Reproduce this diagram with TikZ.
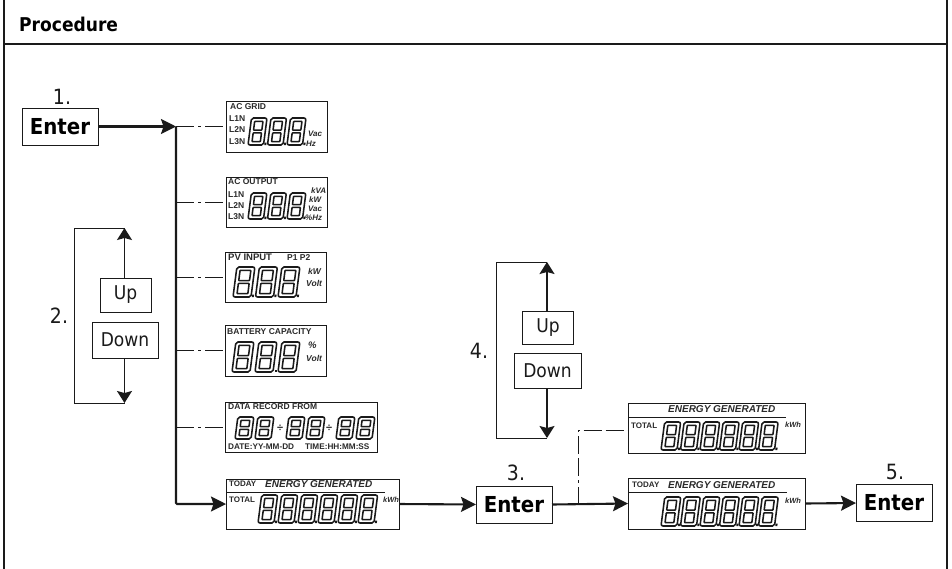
\documentclass[tikz,border=0pt]{standalone}
\usepackage{fontspec}
\setmainfont{DejaVu Sans}[FakeStretch=0.9]
\newfontfamily\lcdfont{Liberation Sans}
\usetikzlibrary{arrows.meta}
\definecolor{ink}{HTML}{1A1A1A}
\definecolor{lcdink}{HTML}{2A2A2A}
% #1 x of first digit, #2 bottom y, #3 width, #4 height, #5 pitch, #6 digit offsets, #7 dot flag
\newcommand\lcdrun[7]{%
  \foreach \d in {#6}{%
    \begin{scope}[shift={(#1+\d*#5,#2)},xslant=0.13,line width=1.55pt,draw=ink]
      \draw[rounded corners=2pt] (0,0) rectangle (#3,-#4);
      \draw[rounded corners=.6pt] (3.6,-3.4) rectangle (#3-3.6,-#4/2+1.4);
      \draw[rounded corners=.6pt] (3.6,-#4/2-1.4) rectangle (#3-3.6,-#4+3.4);
      \ifnum#7=1 \fill[ink] (#3+.8,-2.4) rectangle (#3+2.8,0);\fi
    \end{scope}}}
\tikzset{
  lcdbox/.style={draw=ink,line width=.9pt,minimum height=#1,inner sep=0,outer sep=0},
  keybox/.style={draw=ink,line width=.9pt,inner sep=0,outer sep=0,font=\fontsize{22}{24}\selectfont\bfseries,minimum width=76pt,minimum height=37pt},
  softbox/.style={draw=ink,line width=.8pt,inner sep=0,outer sep=0,font=\fontsize{19}{21}\selectfont,text=ink},
  stepnum/.style={font=\fontsize{21}{23}\selectfont,text=ink},
  lcdtxt/.style={font=\lcdfont\fontsize{#1}{#1}\selectfont\bfseries,text=lcdink,inner sep=0,anchor=west},
  lcdtxt/.default=8.5,
  lcdunit/.style={font=\lcdfont\fontsize{#1}{#1}\selectfont\bfseries\itshape,text=lcdink,inner sep=0,anchor=west},
  lcdunit/.default=8,
  tiphead/.style={-{Stealth[length=15pt,width=15pt,inset=2.5pt]}},
  tipsmall/.style={-{Stealth[length=12pt,width=15pt,inset=2pt]}},
  mainline/.style={line width=2.1pt,draw=ink},
  thinline/.style={line width=1.4pt,draw=ink},
  dashline/.style={line width=1pt,draw=ink,dash pattern=on 18pt off 4pt on 3pt off 4pt on 18pt off 4pt},
}
\begin{document}
\begin{tikzpicture}[x=1pt,y=-1pt]
\useasboundingbox (0,0) rectangle (952,568);
\fill[white] (0,0) rectangle (952,568);
\node[draw=none,inner sep=0,anchor=west,font=\fontsize{19}{21}\selectfont\bfseries] (title) at (19,24) {Procedure};
\coordinate (fl) at (4,-2); \coordinate (fr) at (947,-2);
\coordinate (fbl) at (4,570); \coordinate (fbr) at (947,570);
\coordinate (hl) at (4,44); \coordinate (hr) at (947,44);
\draw[line width=1.8pt,draw=ink] (fl) -- (fbl) (fr) -- (fbr) (hl) -- (hr);

% keys
\node[keybox] (enterA) at (60,126.5) {Enter};
\node[keybox] (enterB) at (514,504.5) {Enter};
\node[keybox] (enterC) at (894,503) {Enter};
\node[stepnum] (n1) at (62,97) {1.};
\node[stepnum] (n2) at (59,316) {2.};
\node[stepnum] (n3) at (516,473) {3.};
\node[stepnum] (n4) at (479,351) {4.};
\node[stepnum] (n5) at (895,472) {5.};

% up / down
\node[softbox,minimum width=51pt,minimum height=34pt] (upA) at (125.5,295) {Up};
\node[softbox,minimum width=66pt,minimum height=36pt] (downA) at (125,340) {Down};
\node[softbox,minimum width=51pt,minimum height=33pt] (upB) at (548,328) {Up};
\node[softbox,minimum width=67pt,minimum height=35pt] (downB) at (547.5,370.5) {Down};

% displays
\node[lcdbox=51pt,minimum width=101pt] (dGrid) at (276.5,126.5) {};
\node[lcdbox=50pt,minimum width=101pt] (dOut) at (276.5,202) {};
\node[lcdbox=50pt,minimum width=101pt] (dPv) at (275.5,277) {};
\node[lcdbox=51pt,minimum width=101pt] (dBat) at (275.5,350.5) {};
\node[lcdbox=50pt,minimum width=152pt] (dRec) at (301,427) {};
\node[lcdbox=50pt,minimum width=173pt] (dGenA) at (312.5,504) {};
\node[lcdbox=50pt,minimum width=177pt] (dTot) at (716.5,428) {};
\node[lcdbox=51pt,minimum width=177pt] (dGenB) at (716.5,503.5) {};

% AC GRID
\node[lcdtxt] (t1) at (230,106.5) {AC GRID};
\node[lcdtxt] (t2) at (229,119) {L1N};
\node[lcdtxt] (t3) at (229,130) {L2N};
\node[lcdtxt] (t4) at (229,142) {L3N};
\lcdrun{248}{145}{15.5}{27}{19.5}{0,1,2}{1}
\node[lcdunit] (t5) at (308,134) {Vac};
\node[lcdunit] (t6) at (306,144) {Hz};
% AC OUTPUT
\node[lcdtxt] (t7) at (228,182) {AC OUTPUT};
\node[lcdtxt] (t8) at (228,195) {L1N};
\node[lcdtxt] (t9) at (228,206) {L2N};
\node[lcdtxt] (t10) at (228,217) {L3N};
\lcdrun{248}{219}{15.5}{26}{19.5}{0,1,2}{1}
\node[lcdunit] (t11) at (311,191) {kVA};
\node[lcdunit] (t12) at (309,200) {kW};
\node[lcdunit] (t13) at (308,209) {Vac};
\node[lcdunit] (t14) at (305,218) {\%Hz};
% PV
\node[lcdtxt=9.5] (t15) at (228,257.5) {PV INPUT};
\node[lcdtxt] (t16) at (287,257.5) {P1 P2};
\lcdrun{233}{297}{18}{30}{22.5}{0,1,2}{1}
\node[lcdunit=8.5] (t17) at (308,271) {kW};
\node[lcdunit=8.5] (t18) at (306,283) {Volt};
% BATTERY
\node[lcdtxt] (t19) at (227,332) {BATTERY CAPACITY};
\lcdrun{232}{372}{18}{30}{23}{0,1,2}{0}
\fill[ink] (274.5,369.5) rectangle (276.5,372);
\node[lcdunit=9.5] (t20) at (308,345) {\%};
\node[lcdunit=8.5] (t21) at (306,358) {Volt};
% RECORD
\node[lcdtxt] (t22) at (228,407) {DATA RECORD FROM};
\lcdrun{235}{439}{16}{22}{20}{0,1}{0}
\lcdrun{286}{439}{16}{22}{20}{0,1}{0}
\lcdrun{336}{439}{16}{22}{20}{0,1}{0}
\node[lcdtxt=11] (t23) at (277,428) {÷};
\node[lcdtxt=11] (t24) at (326,428) {÷};
\node[lcdtxt=8.2] (t25) at (228,447) {DATE:YY-MM-DD};
\node[lcdtxt=8.2] (t26) at (305,447) {TIME:HH:MM:SS};
% GENERATED A
\node[lcdtxt=8] (t27) at (229,484) {TODAY};
\node[lcdunit=10] (t28) at (265,484) {ENERGY GENERATED};
\draw[draw=ink,line width=.9pt] (227,492) -- (385,492);
\node[lcdtxt=8] (t29) at (229,500) {TOTAL};
\lcdrun{258}{523}{16}{28}{20}{0,1,2,3,4,5}{1}
\node[lcdunit=7.5] (t30) at (383,500) {kWh};
% TOTAL
\node[lcdunit=10] (t31) at (668,409.5) {ENERGY GENERATED};
\draw[draw=ink,line width=.9pt] (628,417) -- (786,417);
\node[lcdtxt=8] (t32) at (631,426) {TOTAL};
\lcdrun{661}{450}{16}{28}{19.5}{0,1,2,3,4,5}{1}
\node[lcdunit=7.5] (t33) at (785,425) {kWh};
% GENERATED B
\node[lcdtxt=8] (t34) at (632,484.5) {TODAY};
\node[lcdunit=10] (t35) at (668,485) {ENERGY GENERATED};
\draw[draw=ink,line width=.9pt] (629,492) -- (787,492);
\lcdrun{661}{526}{16}{29}{19.5}{0,1,2,3,4,5}{1}
\node[lcdunit=7.5] (t36) at (785,501) {kWh};

% connectors
\coordinate (trunkTop) at (176,126.5);
\coordinate (trunkBot) at (176,504);
\coordinate (tapOut) at (176,202);
\coordinate (tapPv) at (176,277);
\coordinate (tapBat) at (176,350.5);
\coordinate (tapRec) at (176,427);
\draw[mainline,tiphead] (enterA.east) -- (trunkTop);
\draw[mainline,rounded corners=1pt,tiphead] (trunkTop) -- (trunkBot) -- (dGenA.west);
\draw[dashline] (trunkTop) -- (dGrid.west);
\draw[dashline] (tapOut) -- (dOut.west);
\draw[dashline] (tapPv) -- (dPv.west);
\draw[dashline] (tapBat) -- (dBat.west);
\draw[dashline] (tapRec) -- (dRec.west);
\draw[mainline,tiphead] (dGenA.east) -- (enterB.west);
\draw[mainline,tiphead] (enterB.east) -- (dGenB.west);
\draw[mainline,tiphead] (dGenB.east) -- (enterC.west);
\coordinate (branch) at (578,504.5);
\coordinate (branchTop) at (578,430);
\draw[dashline] (branch) -- (branchTop) -- (dTot.west |- branchTop);
% up/down loops
\coordinate (tipUA) at (124.5,228);
\coordinate (tipDA) at (124.5,403);
\coordinate (cornerUA) at (74,228);
\coordinate (cornerDA) at (74,403);
\draw[thinline,tipsmall] (upA.north -| tipUA) -- (tipUA);
\draw[thinline,tipsmall] (downA.south -| tipDA) -- (tipDA);
\draw[line width=.9pt,draw=ink] (tipUA) -- (cornerUA) -- (cornerDA) -- (tipDA);
\coordinate (tipUB) at (547,262);
\coordinate (tipDB) at (547,438);
\coordinate (cornerUB) at (496,262);
\coordinate (cornerDB) at (496,438);
\draw[thinline,tipsmall] (upB.north -| tipUB) -- (tipUB);
\draw[thinline,tipsmall] (downB.south -| tipDB) -- (tipDB);
\draw[line width=.9pt,draw=ink] (tipUB) -- (cornerUB) -- (cornerDB) -- (tipDB);
\end{tikzpicture}
\end{document}
